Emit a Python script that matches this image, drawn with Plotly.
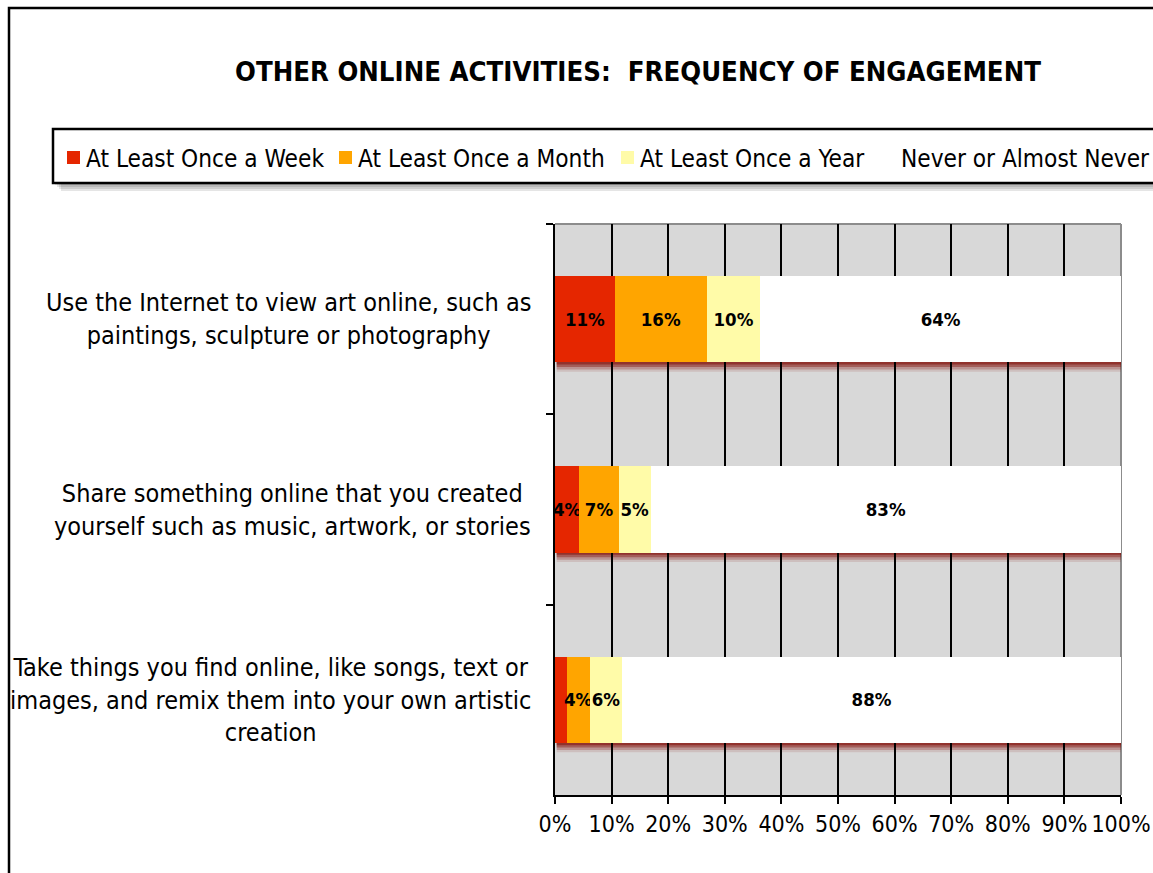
import plotly.graph_objects as go

# ---------------- data ----------------
categories = [
    "Use the Internet to view art online, such as<br>paintings, sculpture or photography",
    "Share something online that you created<br>yourself such as music, artwork, or stories",
    "Take things you find online, like songs, text or<br>images, and remix them into your own artistic<br>creation",
]
series_names = ["At Least Once a Week", "At Least Once a Month", "At Least Once a Year", "Never or Almost Never"]
week = [10.6, 4.3, 2.1]
month = [16.2, 7.0, 4.0]
year = [9.5, 5.6, 5.8]
never = [63.7, 83.1, 88.1]
week_labels = ["11%", "4%", ""]
month_labels = ["16%", "7%", "4%"]
year_labels = ["10%", "5%", "6%"]
never_labels = ["64%", "83%", "88%"]
tick_values = [0, 10, 20, 30, 40, 50, 60, 70, 80, 90, 100]
tick_labels = ["0%", "10%", "20%", "30%", "40%", "50%", "60%", "70%", "80%", "90%", "100%"]
title_text = "OTHER ONLINE ACTIVITIES:  FREQUENCY OF ENGAGEMENT"

colors = ["#E52600", "#FFA500", "#FFFBA8", "#FFFFFF"]
series_values = [week, month, year, never]
series_labels = [week_labels, month_labels, year_labels, never_labels]

FONT = "DejaVu Sans Condensed, DejaVu Sans, sans-serif"
W, H = 1153, 873
X0, X1, YB, YT = 555, 1121, 795, 224


def px(x):
    return (x - X0) / (X1 - X0)


def py(y):
    return (YB - y) / (YB - YT)


fig = go.Figure()
for name, vals, labs, col in zip(series_names, series_values, series_labels, colors):
    fig.add_trace(go.Bar(
        y=categories, x=vals, name=name, orientation="h",
        marker=dict(color=col, line=dict(width=0)),
        text=labs, textposition="inside", insidetextanchor="middle",
        textangle=0, constraintext="none",
        textfont=dict(family=FONT, size=18.5, color="black", weight="bold"),
        showlegend=False,
    ))

shapes = []
# bar shadows
BAR_W = 0.452
for i in range(len(categories)):
    for off, op in [(0.012, 0.55), (0.025, 0.4), (0.038, 0.25), (0.05, 0.12)]:
        shapes.append(dict(type="rect", xref="x", yref="y", layer="below",
                           x0=0.3, x1=100.3, y0=i + BAR_W / 2 - 0.01, y1=i + BAR_W / 2 + off,
                           fillcolor=f"rgba(130,15,10,{op})", line=dict(width=0)))
# gray top and right border of the plot area
shapes.append(dict(type="line", xref="paper", yref="paper", layer="between",
                   x0=0, x1=1, y0=1, y1=1, line=dict(color="#8c8c8c", width=2)))
shapes.append(dict(type="line", xref="paper", yref="paper", layer="between",
                   x0=1, x1=1, y0=0, y1=1, line=dict(color="#8c8c8c", width=2)))
# outer frame
shapes.append(dict(type="rect", xref="paper", yref="paper", layer="above",
                   x0=px(9), x1=px(1170), y0=py(8), y1=py(900),
                   line=dict(color="black", width=2.5), fillcolor="rgba(0,0,0,0)"))
# legend shadow
for k in range(4):
    d = 2 + 2 * k
    shapes.append(dict(type="rect", xref="paper", yref="paper", layer="above",
                       x0=px(53 + d), x1=px(1170), y0=py(183 + d), y1=py(129 + d),
                       fillcolor="rgba(0,0,0,0.10)", line=dict(width=0)))
# legend box
shapes.append(dict(type="rect", xref="paper", yref="paper", layer="above",
                   x0=px(53), x1=px(1170), y0=py(183), y1=py(129),
                   fillcolor="white", line=dict(color="black", width=2.5)))

annotations = []
legend_sq_x = [67, 339, 621, 882]
for name, col, sx in zip(series_names, colors, legend_sq_x):
    shapes.append(dict(type="rect", xref="paper", yref="paper", layer="above",
                       x0=px(sx), x1=px(sx + 13), y0=py(164), y1=py(151),
                       fillcolor=col, line=dict(width=0)))
    annotations.append(dict(xref="paper", yref="paper", x=px(sx + 17), y=py(159),
                            xanchor="left", yanchor="middle", showarrow=False,
                            text=name, font=dict(family=FONT, size=24.2, color="black")))

for cat in categories:
    annotations.append(dict(xref="paper", yref="y", x=px(533), y=cat,
                            xanchor="right", yanchor="middle", align="center",
                            showarrow=False, text=cat,
                            font=dict(family=FONT, size=25, color="black")))

fig.update_layout(
    width=W, height=H, autosize=False,
    barmode="stack", bargap=1 - BAR_W,
    paper_bgcolor="white", plot_bgcolor="#D8D8D8",
    margin=dict(l=X0, r=W - X1, t=YT, b=H - YB, pad=0, autoexpand=False),
    title=dict(text="<b>" + title_text + "</b>", x=638 / W, xanchor="center",
               y=1 - 71 / H, yanchor="middle",
               font=dict(family=FONT, size=27.3, color="black")),
    shapes=shapes, annotations=annotations,
    font=dict(family=FONT, color="black"),
    xaxis=dict(range=[0, 100], tickvals=tick_values, ticktext=tick_labels,
               showgrid=True, gridcolor="black", gridwidth=2,
               showline=True, linecolor="black", linewidth=2,
               ticks="outside", ticklen=7, tickwidth=2, tickcolor="black",
               tickfont=dict(family=FONT, size=23, color="black"),
               zeroline=False, fixedrange=True, automargin=False),
    yaxis=dict(categoryorder="array", categoryarray=categories, autorange="reversed",
               showticklabels=False, showgrid=False, zeroline=False,
               showline=True, linecolor="black", linewidth=2,
               ticks="outside", tickson="boundaries", ticklen=7, tickwidth=2,
               tickcolor="black", automargin=False, fixedrange=True),
)

fig.write_html("out.html",
               config={"displayModeBar": False, "responsive": False},
               post_script="document.body.style.margin='0px';")
